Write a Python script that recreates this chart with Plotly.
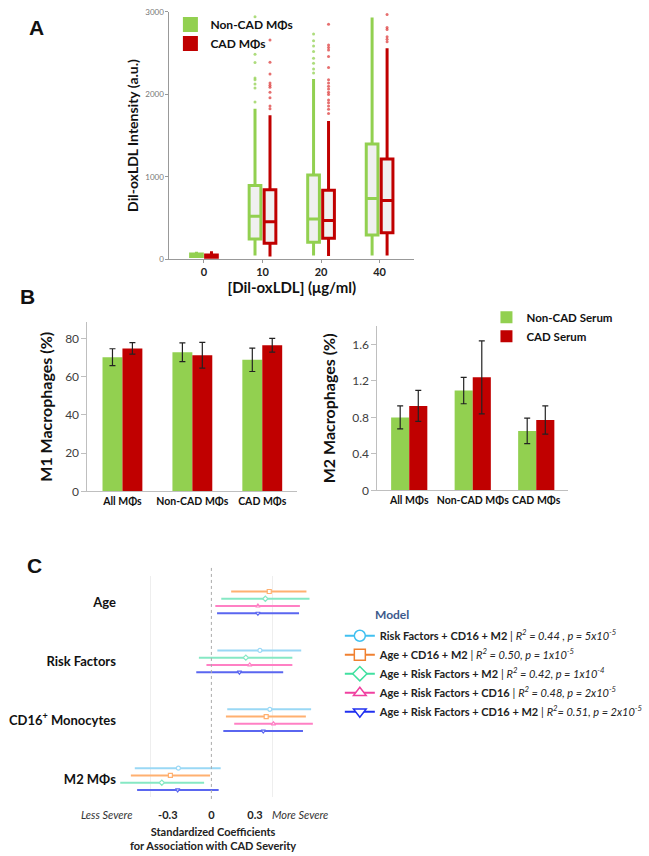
import plotly.graph_objects as go

# figure size in px, used to place panels and text in paper coordinates
W, H = 649, 856


def px_x(p):
    return p / W


def px_y(p):
    return 1 - p / H


FONT = "Lato, 'Open Sans', sans-serif"
GREEN = "#92d050"
RED = "#c00000"

# ---- Panel A: DiI-oxLDL intensity per dose ----
doses = ["0", "10", "20", "40"]

noncad_low = [20, 44, 44, 44]
noncad_q1 = [30, 245, 205, 293]
noncad_median = [50, 521, 485, 734]
noncad_q3 = [62, 894, 1019, 1396]
noncad_high = [90, 1825, 2186, 2932]
noncad_outliers = [
    [],
    [1905, 2077, 2126, 2177, 2198, 2386, 2486, 2940],
    [2258, 2306, 2378, 2438, 2519, 2586, 2651, 2731],
    [],
]

cad_low = [15, 32, 36, 44]
cad_q1 = [22, 193, 253, 321]
cad_median = [38, 453, 469, 710]
cad_q3 = [50, 842, 834, 1215]
cad_high = [95, 1745, 1676, 2559]
cad_outliers = [
    [],
    [1825, 1857, 1957, 2026, 2086, 2110, 2138, 2246, 2390, 2658],
    [1768, 1817, 1857, 1897, 1930, 1997, 2026, 2065, 2098, 2138, 2177,
     2326, 2458, 2538, 2567, 2598, 2851],
    [2639, 2667, 2699, 2787, 2811, 2968],
]

# ---- Panel B: M1 / M2 macrophage percentages ----
groups = ["All MΦs", "Non-CAD MΦs", "CAD MΦs"]
m1_noncad = [70.2, 72.8, 68.8]
m1_noncad_err = [4.4, 4.9, 6.1]
m1_cad = [74.8, 71.2, 76.4]
m1_cad_err = [3.0, 6.7, 3.6]
m2_noncad = [0.80, 1.095, 0.652]
m2_noncad_err = [0.126, 0.145, 0.14]
m2_cad = [0.926, 1.24, 0.771]
m2_cad_err = [0.17, 0.40, 0.155]

# ---- Panel C: standardized coefficients per model ----
c_rows = ["Age", "Risk Factors", "CD16<sup>+</sup> Monocytes", "M2 MΦs"]
model_names = [
    "<b>Risk Factors + CD16 + M2</b> | <i>R<sup>2</sup> = 0.44 , p = 5x10<sup>-5</sup></i>",
    "<b>Age + CD16 + M2</b> | <i>R<sup>2</sup> = 0.50, p = 1x10<sup>-5</sup></i>",
    "<b>Age + Risk Factors + M2</b> | <i>R<sup>2</sup> = 0.42, p = 1x10<sup>-4</sup></i>",
    "<b>Age + Risk Factors + CD16</b> | <i>R<sup>2</sup> = 0.48, p = 2x10<sup>-5</sup></i>",
    "<b>Age + Risk Factors + CD16 + M2</b> | <i>R<sup>2</sup>= 0.51, p = 2x10<sup>-5</sup></i>",
]
coef = [
    [None, 0.334, 0.402, -0.227],
    [0.398, None, 0.377, -0.282],
    [0.371, 0.237, None, -0.341],
    [0.320, 0.264, 0.427, None],
    [0.320, 0.193, 0.357, -0.232],
]
coef_lo = [
    [None, 0.041, 0.109, -0.527],
    [0.136, None, 0.100, -0.554],
    [0.068, -0.086, None, -0.627],
    [0.027, -0.034, 0.157, None],
    [0.039, -0.104, 0.082, -0.511],
]
coef_hi = [
    [None, 0.618, 0.686, 0.064],
    [0.654, None, 0.650, -0.009],
    [0.675, 0.557, None, -0.050],
    [0.609, 0.557, 0.698, None],
    [0.603, 0.494, 0.630, 0.050],
]
model_symbols = ["circle", "square", "diamond", "triangle-up", "triangle-down"]
model_line_colors = ["#9ad8f5", "#ffb070", "#86e8c4", "#ff80c4", "#5a66f0"]
model_legend_colors = ["#40c0f0", "#f08030", "#40e0a0", "#f040a0", "#2030f0"]

fig = go.Figure()

# Panel A boxes, two per dose
offset = 0.128
for low, q1, med, q3, high, outl, color, dot, shift in [
    (noncad_low, noncad_q1, noncad_median, noncad_q3, noncad_high, noncad_outliers,
     GREEN, "rgba(146,208,80,0.75)", -offset),
    (cad_low, cad_q1, cad_median, cad_q3, cad_high, cad_outliers,
     RED, "rgba(220,50,50,0.7)", offset),
]:
    pos = [i + shift for i in range(len(doses))]
    fig.add_trace(go.Box(
        x=pos, q1=q1, median=med, q3=q3, lowerfence=low, upperfence=high,
        width=0.2, whiskerwidth=0, boxpoints=False,
        line=dict(color=color, width=3), fillcolor="#f0f0f0",
        showlegend=False, hoverinfo="skip", xaxis="x", yaxis="y",
    ))
    ox = [pos[i] for i in range(len(doses)) for _ in outl[i]]
    oy = [v for i in range(len(doses)) for v in outl[i]]
    fig.add_trace(go.Scatter(
        x=ox, y=oy, mode="markers", marker=dict(size=3, color=dot),
        showlegend=False, xaxis="x", yaxis="y",
    ))

# legend entries for panel A
for name, color in [("Non-CAD MΦs", GREEN), ("CAD MΦs", RED)]:
    fig.add_trace(go.Scatter(
        x=[None], y=[None], mode="markers", name=name,
        marker=dict(symbol="square", size=15, color=color), legend="legend",
        xaxis="x", yaxis="y",
    ))

# Panel B bars
for vals, errs, color, name, ax, show in [
    (m1_noncad, m1_noncad_err, GREEN, "Non-CAD Serum", "2", True),
    (m1_cad, m1_cad_err, RED, "CAD Serum", "2", True),
    (m2_noncad, m2_noncad_err, GREEN, "Non-CAD Serum", "3", False),
    (m2_cad, m2_cad_err, RED, "CAD Serum", "3", False),
]:
    fig.add_trace(go.Bar(
        x=groups, y=vals, name=name, marker=dict(color=color, line=dict(width=0)),
        error_y=dict(type="data", array=errs, color="#222222", thickness=1.2, width=3),
        showlegend=show, legend="legend2", xaxis="x" + ax, yaxis="y" + ax,
        offsetgroup=name,
    ))

# Panel C coefficient lines, stacked inside each row
for m in range(len(model_names)):
    xs, ys, err_lo, err_hi = [], [], [], []
    for r in range(len(c_rows)):
        if coef[m][r] is None:
            continue
        present = [k for k in range(len(model_names)) if coef[k][r] is not None]
        slot = present.index(m)
        xs.append(coef[m][r])
        ys.append(r + (slot - (len(present) - 1) / 2) * 0.123)
        err_lo.append(coef[m][r] - coef_lo[m][r])
        err_hi.append(coef_hi[m][r] - coef[m][r])
    fig.add_trace(go.Scatter(
        x=xs, y=ys, mode="markers",
        marker=dict(symbol=model_symbols[m], size=4, color="white",
                    line=dict(color=model_line_colors[m], width=1.2)),
        error_x=dict(type="data", symmetric=False, array=err_hi, arrayminus=err_lo,
                     color=model_line_colors[m], thickness=2, width=0),
        showlegend=False, xaxis="x4", yaxis="y4",
    ))
    fig.add_trace(go.Scatter(
        x=[None], y=[None], mode="lines+markers", name=model_names[m],
        line=dict(color=model_legend_colors[m], width=2),
        marker=dict(symbol=model_symbols[m], size=11, color="white",
                    line=dict(color=model_legend_colors[m], width=1.5)),
        legend="legend3", xaxis="x4", yaxis="y4",
    ))

title_font = dict(family=FONT, size=15, color="#111111", weight="bold")
b_tick_font = dict(size=10.5, color="#111111", weight="bold")

fig.update_layout(
    width=W, height=H,
    margin=dict(l=0, r=0, t=0, b=0),
    paper_bgcolor="white", plot_bgcolor="white",
    font=dict(family=FONT, color="#222222"),
    barmode="group", bargap=0.43, bargroupgap=0,
    # Panel A
    xaxis=dict(
        domain=[px_x(171), px_x(418)], range=[-0.59, 3.59],
        tickvals=list(range(len(doses))), ticktext=doses,
        tickfont=dict(size=11, color="#222222", weight="bold"),
        ticks="outside", ticklen=3, tickcolor="#999999",
        showline=True, linecolor="#999999", showgrid=False, zeroline=False,
        title=dict(text="[Dil-oxLDL] (μg/ml)", font=title_font, standoff=4),
    ),
    yaxis=dict(
        domain=[px_y(257.7), px_y(7)], range=[0, 3000],
        tickvals=[0, 1000, 2000, 3000],
        tickfont=dict(size=8, color="#777777"),
        ticks="outside", ticklen=3, tickcolor="#999999",
        showline=True, linecolor="#999999", showgrid=False, zeroline=False,
        title=dict(text="Dil-oxLDL Intensity (a.u.)",
                   font=dict(family=FONT, size=14, color="#111111", weight="bold"),
                   standoff=3),
    ),
    # Panel B left
    xaxis2=dict(
        domain=[px_x(88.3), px_x(300)], anchor="y2", range=[-0.5, 2.5],
        tickangle=0, tickfont=b_tick_font,
        showline=True, linecolor="#bfbfbf", showgrid=False,
    ),
    yaxis2=dict(
        domain=[px_y(493.3), px_y(321.7)], anchor="x2", range=[0, 88.5],
        tickvals=[0, 20, 40, 60, 80],
        tickfont=dict(size=12, color="#404040"),
        ticks="outside", ticklen=5, tickcolor="#bfbfbf",
        showline=True, linecolor="#bfbfbf", showgrid=False, zeroline=False,
        title=dict(text="M1 Macrophages (%)",
                   font=dict(family=FONT, size=16, color="#111111", weight="bold"),
                   standoff=8),
    ),
    # Panel B right
    xaxis3=dict(
        domain=[px_x(381), px_x(573.3)], anchor="y3", range=[-0.5, 2.5],
        tickangle=0, tickfont=b_tick_font,
        showline=True, linecolor="#bfbfbf", showgrid=False,
    ),
    yaxis3=dict(
        domain=[px_y(492.3), px_y(325.8)], anchor="x3", range=[0, 1.8],
        tickvals=[0, 0.4, 0.8, 1.2, 1.6], ticktext=["0", "0.4", "0.8", "1.2", "1.6"],
        tickfont=dict(size=12, color="#404040"),
        ticks="outside", ticklen=5, tickcolor="#bfbfbf",
        showline=True, linecolor="#bfbfbf", showgrid=False, zeroline=False,
        title=dict(text="M2 Macrophages (%)",
                   font=dict(family=FONT, size=16, color="#111111", weight="bold"),
                   standoff=12),
    ),
    # Panel C
    xaxis4=dict(
        domain=[px_x(118), px_x(330)], anchor="y4", range=[-0.65, 0.795],
        tickvals=[-0.3, 0, 0.3], ticktext=["-0.3", "0", "0.3"],
        tickfont=dict(size=11, color="#222222", weight="bold"),
        ticklabelstandoff=10,
        showline=False, showgrid=False, zeroline=False,
        minor=dict(tickvals=[-0.42, 0.42], showgrid=True, gridcolor="#eeeeee", ticks=""),
    ),
    yaxis4=dict(
        domain=[px_y(803), px_y(579)], anchor="x4", range=[3.3, -0.45],
        tickvals=list(range(len(c_rows))), ticktext=c_rows,
        tickfont=dict(size=13, color="#111111", weight="bold"),
        showline=False, showgrid=False, zeroline=False,
    ),
    legend=dict(
        x=px_x(172), y=px_y(5), xanchor="left", yanchor="top",
        bgcolor="rgba(0,0,0,0)", font=dict(size=12, color="#111111", weight="bold"),
        itemwidth=30,
    ),
    legend2=dict(
        x=px_x(491), y=px_y(302), xanchor="left", yanchor="top",
        bgcolor="rgba(0,0,0,0)", font=dict(size=11.5, color="#111111", weight="bold"),
        itemwidth=30,
    ),
    legend3=dict(
        x=px_x(343), y=px_y(625), xanchor="left", yanchor="top",
        bgcolor="rgba(0,0,0,0)", font=dict(size=11, color="#222222"),
        itemwidth=30,
    ),
    shapes=[dict(
        type="line", xref="x4", yref="y4 domain", x0=0, x1=0, y0=-0.01, y1=1.04,
        line=dict(color="#aaaaaa", width=1, dash="dot"),
    )],
)

letter_font = dict(family="Liberation Sans, Arial", size=21, color="#111111", weight="bold")
notes = [
    ("A", 37, 23, letter_font),
    ("B", 28, 296, letter_font),
    ("C", 35, 568, letter_font),
    ("Model", 396, 618, dict(family=FONT, size=12, color="#3d5a8c", weight="bold")),
    ("Less Severe", 107, 821, dict(family=FONT, size=11, color="#333333", style="italic")),
    ("More Severe", 303, 821, dict(family=FONT, size=11, color="#333333", style="italic")),
    ("Standardized Coefficients<br>for Association with CAD Severity", 215, 845,
     dict(family=FONT, size=11, color="#222222", weight="bold")),
]
for text, x, y, font in notes:
    fig.add_annotation(
        text=text, x=px_x(x), y=px_y(y), xref="paper", yref="paper",
        showarrow=False, font=font, xanchor="center", yanchor="middle",
    )

# drop the default page margin so the figure sits at the window corner
fig.write_html("out.html", config={"displayModeBar": False},
               post_script="document.body.style.margin = '0';")
